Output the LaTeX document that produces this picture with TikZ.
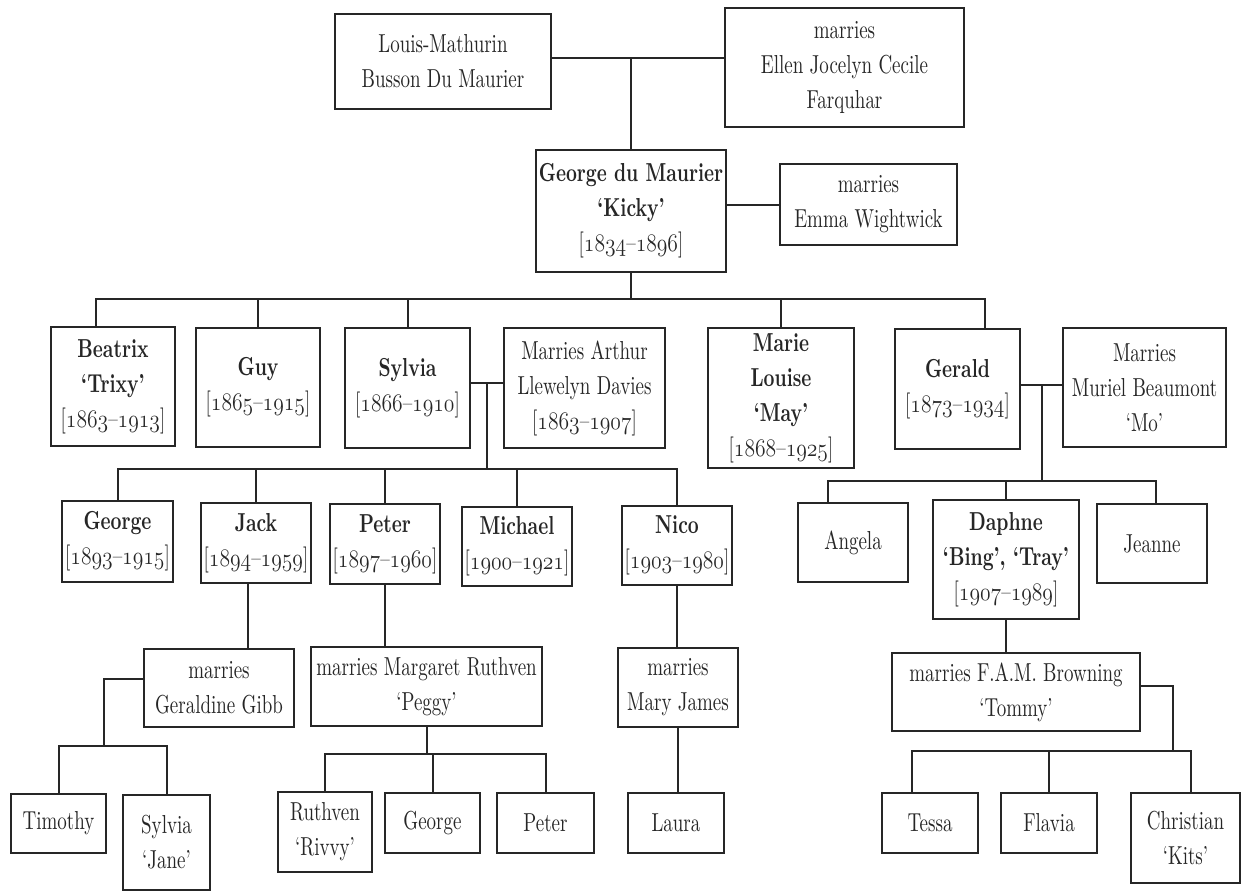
\documentclass[tikz,border=0pt]{standalone}
\usepackage{fontspec}
\setmainfont{lmroman10-regular.otf}[BoldFont=lmroman10-bold.otf,FakeStretch=0.73]
\usepackage{graphicx}
\usetikzlibrary{calc}
\tikzset{person box/.style={draw, line width=1.4pt, align=center, inner sep=0pt,
		font=\fontsize{13}{17.5}\selectfont}}
\tikzset{box size/.style args={#1 by #2}{minimum width=#1*0.5pt, minimum height=#2*0.5pt}}
\newcommand{\osn}[1]{\scalebox{0.9}[1.05]{\fontencoding{OML}\fontfamily{lmm}\fontseries{m}\fontshape{it}\selectfont #1}}
\newcommand{\yrs}[2]{[\osn{#1}--\osn{#2}]}

\begin{document}
\begin{tikzpicture}[x=0.5pt, y=-0.5pt, line width=1pt, black!85]
	\useasboundingbox (0,0) rectangle (1242,890);
	% parents and grandparents
	\node[person box, box size=216 by 95] at (443,61.5) (louis) {Louis-Mathurin\\Busson Du Maurier};
	\node[person box, box size=239 by 119] at (844.5,67.5) (ellen) {marries\\Ellen Jocelyn Cecile\\Farquhar};
	\node[person box, box size=190 by 122] at (631,211) (kicky) {\textbf{George du Maurier}\\\textbf{‘Kicky’}\\\yrs{1834}{1896}};
	\node[person box, box size=177 by 81] at (868.5,204.5) (emma) {marries\\Emma Wightwick};
	\coordinate (louisline) at ([yshift=2pt]louis.east);
	\path (louisline) edge (louisline -| ellen.west);
	\path (louisline -| kicky.north) edge (kicky.north);
	\path (emma.west -| kicky.east) edge (emma.west);
	% children of kicky
	\node[person box, box size=124 by 119] at (113,386.5) (beatrix) {\textbf{Beatrix}\\\textbf{‘Trixy’}\\\yrs{1863}{1913}};
	\node[person box, box size=124 by 119] at (258,387.5) (guy) {\textbf{Guy}\\\yrs{1865}{1915}};
	\node[person box, box size=125 by 120] at (407.5,388) (sylvia) {\textbf{Sylvia}\\\yrs{1866}{1910}};
	\node[person box, box size=161 by 120] at (584.5,388) (arthur) {Marries Arthur\\Llewelyn Davies\\\yrs{1863}{1907}};
	\node[person box, box size=146 by 140] at (781,398) (may) {\textbf{Marie}\\\textbf{Louise}\\\textbf{‘May’}\\\yrs{1868}{1925}};
	\node[person box, box size=125 by 120] at (957.5,389) (gerald) {\textbf{Gerald}\\\yrs{1873}{1934}};
	\node[person box, box size=163 by 119] at (1144.5,387.5) (muriel) {Marries\\Muriel Beaumont\\‘Mo’};
	\coordinate (sibbus) at (631,299);
	\path (kicky.south) edge (sibbus);
	\draw ([xshift=-8.5pt]beatrix.north) |- (sibbus);
	\draw (guy.north) |- (sibbus);
	\draw (sylvia.north) |- (sibbus);
	\draw (may.north) |- (sibbus);
	\draw ([xshift=13.5pt]gerald.north) |- (sibbus);
	\coordinate (sylline) at ([yshift=2.5pt]sylvia.east);
	\path (sylline) edge (sylline -| arthur.west);
	\coordinate (gerldline) at ([yshift=2pt]gerald.east);
	\path (gerldline) edge (gerldline -| muriel.west);
	% children of sylvia
	\node[person box, box size=111 by 81] at (117.5,541.5) (george) {\textbf{George}\\\yrs{1893}{1915}};
	\node[person box, box size=110 by 80] at (256,543) (jack) {\textbf{Jack}\\\yrs{1894}{1959}};
	\node[person box, box size=110 by 80] at (385,544) (peter) {\textbf{Peter}\\\yrs{1897}{1960}};
	\node[person box, box size=110 by 79] at (517,546.5) (michael) {\textbf{Michael}\\\yrs{1900}{1921}};
	\node[person box, box size=110 by 79] at (677,545.5) (nico) {\textbf{Nico}\\\yrs{1903}{1980}};
	\coordinate (sylmid) at ($(sylline)!0.5!(sylline -| arthur.west)$);
	\coordinate (sylbus) at (sylmid |- 0,469);
	\path (sylmid) edge (sylbus);
	\draw (george.north) |- (sylbus);
	\draw (jack.north) |- (sylbus);
	\draw (peter.north) |- (sylbus);
	\draw (michael.north) |- (sylbus);
	\draw (nico.north) |- (sylbus);
	% children of gerald
	\node[person box, box size=110 by 79] at (853,542.5) (angela) {Angela};
	\node[person box, box size=146 by 119] at (1006,559.5) (daphne) {\textbf{Daphne}\\\textbf{‘Bing’, ‘Tray’}\\\yrs{1907}{1989}};
	\node[person box, box size=110 by 79] at (1152,543.5) (jeanne) {Jeanne};
	\coordinate (gerldmid) at ($(gerldline)!0.5!(gerldline -| muriel.west)$);
	\coordinate (gerldbus) at (gerldmid |- 0,481);
	\path (gerldmid) edge (gerldbus);
	\draw ([xshift=-12.5pt]angela.north) |- (gerldbus);
	\draw (daphne.north) |- (gerldbus);
	\draw ([xshift=2pt]jeanne.north) |- (gerldbus);
	% marriages of the third generation
	\node[person box, box size=150 by 78] at (219,688) (geraldine) {marries\\Geraldine Gibb};
	\node[person box, box size=231 by 79] at (426.5,686.5) (margaret) {marries Margaret Ruthven\\‘Peggy’};
	\node[person box, box size=120 by 79] at (678,687.5) (maryjames) {marries\\Mary James};
	\node[person box, box size=248 by 78] at (1016,692) (browning) {marries F.A.M. Browning\\‘Tommy’};
	\coordinate (jackdrop) at ([xshift=-4pt]jack.south);
	\path (jackdrop) edge (jackdrop |- geraldine.north);
	\path (peter.south) edge (peter.south |- margaret.north);
	\path (nico.south) edge (nico.south |- maryjames.north);
	\path (daphne.south) edge (daphne.south |- browning.north);
	% grandchildren
	\node[person box, box size=95 by 59] at (58.5,823.5) (timothy) {Timothy};
	\node[person box, box size=87 by 95] at (166.5,842.5) (jane) {Sylvia\\‘Jane’};
	\node[person box, box size=94 by 80] at (325,832) (ruthven) {Ruthven\\‘Rivvy’};
	\node[person box, box size=95 by 60] at (432.5,823) (georgegc) {George};
	\node[person box, box size=97 by 60] at (545.5,823) (petergc) {Peter};
	\node[person box, box size=96 by 60] at (676,823) (laura) {Laura};
	\node[person box, box size=96 by 60] at (930,823) (tessa) {Tessa};
	\node[person box, box size=96 by 60] at (1049,823) (flavia) {Flavia};
	\node[person box, box size=109 by 90] at (1185.5,838) (christian) {Christian\\‘Kits’};
	\coordinate (gibbbus) at (104,746);
	\draw ([yshift=4.5pt]geraldine.west) -| (gibbbus);
	\draw (timothy.north) |- (gibbbus);
	\draw (jane.north) |- (gibbbus);
	\coordinate (peggybus) at (margaret.south |- 0,754);
	\path (margaret.south) edge (peggybus);
	\draw (ruthven.north) |- (peggybus);
	\draw (georgegc.north) |- (peggybus);
	\draw (petergc.north) |- (peggybus);
	\path (maryjames.south) edge (maryjames.south |- laura.north);
	\coordinate (tommybus) at (1173,751);
	\draw ([yshift=3pt]browning.east) -| (tommybus);
	\draw ([xshift=-9pt]tessa.north) |- (tommybus);
	\draw (flavia.north) |- (tommybus);
	\draw ([xshift=2.5pt]christian.north) |- (tommybus);
\end{tikzpicture}
\end{document}
